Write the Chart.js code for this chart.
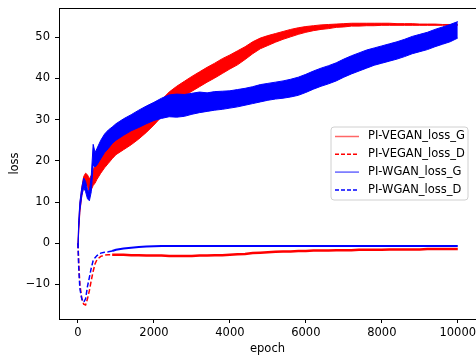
<!DOCTYPE html>
<html>
<head>
<meta charset="utf-8">
<script src="https://cdn.jsdelivr.net/npm/chart.js@4/dist/chart.umd.min.js"></script>
<style>
  body { margin: 0; background: #fff; }
  canvas { display: block; }
</style>
</head>
<body>
<canvas id="chart1" width="476" height="355"></canvas>
<script>
const epochs = [0, 20, 50, 100, 150, 200, 250, 300, 350, 400, 450, 500, 600, 700, 800, 900, 1000,
  1200, 1400, 1600, 1800, 2000, 2200, 2400, 2600, 2800, 3000, 3200, 3400, 3600, 3800, 4000,
  4200, 4400, 4600, 4800, 5000, 5200, 5400, 5600, 5800, 6000, 6200, 6400, 6600, 6800, 7000,
  7200, 7400, 7600, 7800, 8000, 8200, 8400, 8600, 8800, 9000, 9200, 9400, 9600, 9800, 10000];

// PI-VEGAN generator loss (noisy band: upper / lower edge)
const veganG_hi = [-0.5, 5, 9.5, 13.5, 16.2, 17, 16.6, 15.6, 16.5, 17.8, 18.8, 19.6, 21.5, 23, 24.4, 25.3, 26.3,
  27.8, 28.9, 30.2, 31.6, 33.1, 34.8, 36.7, 38.1, 39.3, 40.5, 41.6, 42.7, 43.7, 44.8, 45.7,
  46.7, 47.7, 48.9, 49.8, 50.4, 50.9, 51.4, 51.9, 52.3, 52.6, 52.8, 53, 53.1, 53.2, 53.3,
  53.4, 53.4, 53.4, 53.4, 53.4, 53.4, 53.3, 53.3, 53.3, 53.2, 53.2, 53.2, 53.1, 53.1, 53.1];
const veganG_lo = [-1.2, 3, 7.5, 11.5, 13.8, 14.6, 13.8, 12.5, 13, 14, 14.6, 15.5, 17, 18.3, 19.4, 20.5, 21.5,
  22.7, 23.9, 25.3, 26.9, 28.7, 30.7, 32.9, 34.5, 35.8, 36.9, 38, 39.1, 40.1, 41.2, 42.3,
  43.3, 44.6, 46, 47.2, 48, 48.8, 49.5, 50.1, 50.7, 51.2, 51.6, 51.9, 52.1, 52.4, 52.5,
  52.7, 52.7, 52.8, 52.8, 52.9, 52.9, 52.9, 52.9, 52.9, 52.9, 52.9, 52.9, 52.9, 52.9, 52.9];

// PI-WGAN generator loss
const wganG_hi = [-0.5, 5.5, 10, 13.5, 15.8, 15, 13, 12.5, 16.5, 24, 22, 23, 25, 26.5, 27.5, 28.2, 29,
  30.2, 31.2, 32.3, 33.3, 34.2, 35.2, 36, 36.2, 36.1, 36.4, 36.7, 36.5, 36.8, 36.9, 37,
  37.3, 37.6, 38, 38.5, 38.8, 39.1, 39.4, 39.8, 40.3, 41, 41.8, 42.5, 43.1, 43.8, 44.7,
  45.5, 46.2, 46.9, 47.4, 47.9, 48.4, 48.9, 49.5, 50.2, 50.7, 51.2, 51.9, 52.5, 53.1, 53.8];
const wganG_lo = [-1.2, 3.5, 8, 11.5, 13.5, 12.5, 10.8, 10.3, 12.5, 19, 18.5, 19, 20.5, 22, 23, 24.2, 25,
  26.2, 27.3, 28.1, 29, 29.8, 30.3, 30.7, 30.6, 30.8, 31.3, 31.7, 32, 32.3, 32.5, 32.8,
  33.1, 33.5, 33.9, 34.3, 34.7, 35, 35.2, 35.5, 35.9, 36.6, 37.4, 38.1, 38.7, 39.4, 40.3,
  41.1, 41.8, 42.5, 43.2, 43.7, 44.2, 44.7, 45.3, 46, 46.5, 47, 47.7, 48.3, 48.9, 49.8];

// discriminator losses
const veganD = [0, -5, -10, -13.5, -14.8, -15, -13.5, -11.5, -9, -6.8, -5, -4, -3.2, -2.9, -2.8, -2.8, -2.8,
  -2.8, -2.9, -2.9, -3, -3, -3, -3.1, -3.1, -3.1, -3.1, -3, -3, -2.9, -2.9, -2.8,
  -2.7, -2.6, -2.4, -2.3, -2.2, -2.1, -2, -2, -1.9, -1.9, -1.8, -1.8, -1.8, -1.7, -1.7,
  -1.7, -1.6, -1.6, -1.6, -1.6, -1.5, -1.5, -1.5, -1.5, -1.5, -1.4, -1.4, -1.4, -1.4, -1.4];
const wganD = [0, -6, -11, -13.5, -14.3, -13.5, -10.5, -8.3, -6, -4.2, -3.5, -3, -2.4, -2.2, -2.1, -1.9, -1.6,
  -1.3, -1.1, -0.9, -0.8, -0.75, -0.7, -0.7, -0.7, -0.7, -0.7, -0.7, -0.7, -0.7, -0.7, -0.7,
  -0.7, -0.7, -0.7, -0.7, -0.7, -0.7, -0.7, -0.7, -0.7, -0.7, -0.7, -0.7, -0.7, -0.7, -0.7,
  -0.7, -0.7, -0.7, -0.7, -0.7, -0.7, -0.7, -0.7, -0.7, -0.7, -0.7, -0.7, -0.7, -0.7, -0.7];

const xTicks = [0, 2000, 4000, 6000, 8000, 10000];
const yTicks = [-10, 0, 10, 20, 30, 40, 50];
const legendLabels = ["PI-VEGAN_loss_G", "PI-VEGAN_loss_D", "PI-WGAN_loss_G", "PI-WGAN_loss_D"];

const FONT = "'DejaVu Sans', sans-serif";
const FS = 11.5;
const pts = (ys) => epochs.map((x, i) => ({ x: x, y: ys[i] }));

const dashedEarly = (w) => ({
  borderDash: (ctx) => (ctx.p0.parsed.x < 900 ? [5, 2.5] : []),
  borderWidth: (ctx) => (ctx.p0.parsed.x < 900 ? 1.5 : w),
});

const frame = {
  id: "frame",
  afterDraw(chart) {
    const { ctx, chartArea } = chart;
    ctx.save();
    ctx.strokeStyle = "#000";
    ctx.lineWidth = 1;
    ctx.beginPath();
    ctx.moveTo(chartArea.left, chartArea.top + 0.5);
    ctx.lineTo(chartArea.right, chartArea.top + 0.5);
    ctx.stroke();

    // legend box, matplotlib style
    const bx = 331, by = 127, bw = 137, bh = 73, r = 3;
    ctx.beginPath();
    ctx.moveTo(bx + r, by);
    ctx.arcTo(bx + bw, by, bx + bw, by + bh, r);
    ctx.arcTo(bx + bw, by + bh, bx, by + bh, r);
    ctx.arcTo(bx, by + bh, bx, by, r);
    ctx.arcTo(bx, by, bx + bw, by, r);
    ctx.closePath();
    ctx.fillStyle = "rgba(255,255,255,0.8)";
    ctx.fill();
    ctx.strokeStyle = "#d0d0d0";
    ctx.stroke();

    const styles = [
      { c: "rgba(255,0,0,0.6)", dash: [] },
      { c: "#ff0000", dash: [4, 2] },
      { c: "rgba(0,0,255,0.6)", dash: [] },
      { c: "#0000ff", dash: [4, 2] },
    ];
    ctx.font = FS + "px " + FONT;
    ctx.textBaseline = "middle";
    ctx.textAlign = "left";
    legendLabels.forEach((lab, i) => {
      const y = 136.5 + i * 17.8;
      ctx.beginPath();
      ctx.setLineDash(styles[i].dash);
      ctx.strokeStyle = styles[i].c;
      ctx.lineWidth = 1.5;
      ctx.moveTo(335, y);
      ctx.lineTo(359, y);
      ctx.stroke();
      ctx.setLineDash([]);
      ctx.fillStyle = "#000";
      ctx.fillText(lab, 368, y);
    });
    ctx.restore();
  },
};

new Chart(document.getElementById("chart1"), {
  type: "line",
  data: {
    datasets: [
      { label: legendLabels[3], data: pts(wganD), borderColor: "#0000ff", borderWidth: 2, fill: false, order: 0, segment: dashedEarly(2) },
      { label: "wgan_lo", data: pts(wganG_lo), borderColor: "#0000ff", borderWidth: 1, fill: false, order: 1 },
      { label: legendLabels[2], data: pts(wganG_hi), borderColor: "#0000ff", backgroundColor: "#0000ff", borderWidth: 1, fill: "-1", order: 1 },
      { label: legendLabels[1], data: pts(veganD), borderColor: "#ff0000", borderWidth: 2.5, fill: false, order: 2, segment: dashedEarly(2.5) },
      { label: "vegan_lo", data: pts(veganG_lo), borderColor: "#ff0000", borderWidth: 1, fill: false, order: 3 },
      { label: legendLabels[0], data: pts(veganG_hi), borderColor: "#ff0000", backgroundColor: "#ff0000", borderWidth: 1, fill: "-1", order: 3 },
    ],
  },
  options: {
    responsive: false,
    animation: false,
    layout: { padding: { left: 0, top: 8, right: 0, bottom: 0 } },
    elements: { point: { radius: 0 }, line: { tension: 0 } },
    plugins: { legend: { display: false }, tooltip: { enabled: false } },
    scales: {
      x: {
        type: "linear",
        min: -500,
        max: 10480,
        afterBuildTicks: (s) => { s.ticks = xTicks.map((v) => ({ value: v })); },
        afterFit: (s) => { s.height = 36; s.paddingLeft = 0; s.paddingRight = 0; },
        grid: { drawOnChartArea: false, tickLength: 4, tickColor: "#000" },
        border: { color: "#000", width: 1 },
        ticks: { color: "#000", padding: 3, font: { family: FONT, size: FS }, callback: (v) => String(v) },
        title: { display: true, text: "epoch", color: "#000", font: { family: FONT, size: FS, lineHeight: 1 }, padding: { top: 0, bottom: 0 } },
      },
      y: {
        min: -18.4,
        max: 57.1,
        afterBuildTicks: (s) => { s.ticks = yTicks.map((v) => ({ value: v })); },
        afterFit: (s) => { s.width = 59; s.paddingTop = 0; s.paddingBottom = 0; },
        grid: { drawOnChartArea: false, tickLength: 4, tickColor: "#000" },
        border: { color: "#000", width: 1 },
        ticks: { color: "#000", padding: 5, font: { family: FONT, size: FS }, callback: (v) => String(v).replace("-", "\u2212") },
        title: { display: true, text: "loss", color: "#000", font: { family: FONT, size: FS, lineHeight: 1 }, padding: { top: 9, bottom: 0 } },
      },
    },
  },
  plugins: [frame],
});
</script>
</body>
</html>
